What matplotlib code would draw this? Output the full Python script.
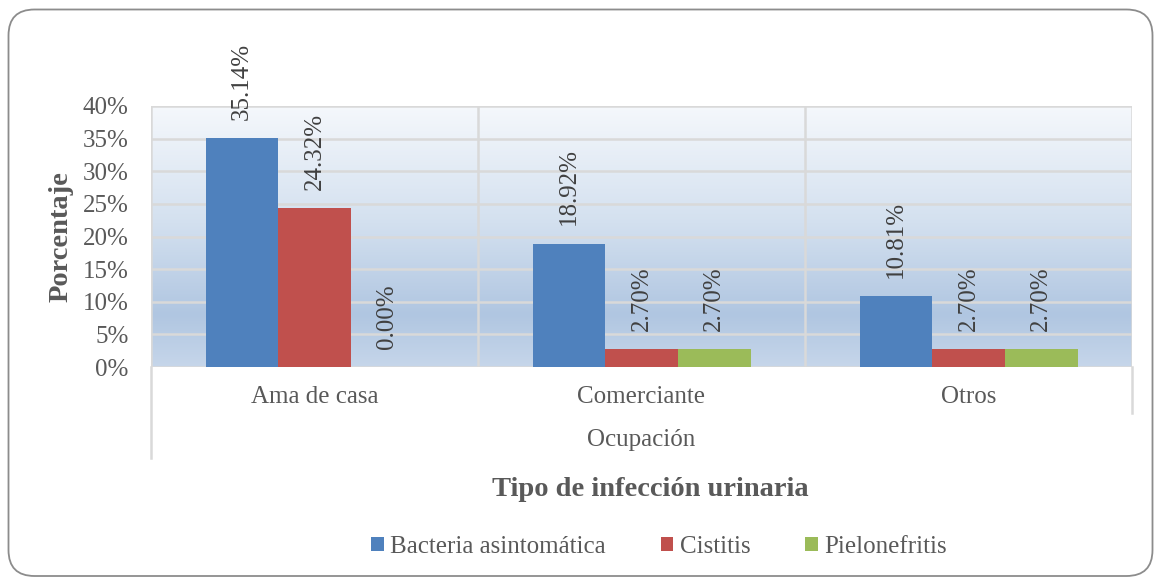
import matplotlib
matplotlib.use("Agg")
import matplotlib.pyplot as plt
import numpy as np
from matplotlib.patches import FancyBboxPatch, Patch
from matplotlib.colors import LinearSegmentedColormap
from matplotlib.lines import Line2D

categories = ["Ama de casa", "Comerciante", "Otros"]
series_names = ["Bacteria asintomática", "Cistitis", "Pielonefritis"]
bacteria = [35.14, 18.92, 10.81]
cistitis = [24.32, 2.70, 2.70]
pielonefritis = [0.00, 2.70, 2.70]
yticks = [0, 5, 10, 15, 20, 25, 30, 35, 40]

colors = ["#4f81bd", "#c0504d", "#9bbb59"]
TXT = "#595959"
FONT = "Liberation Serif"
plt.rcParams["font.family"] = FONT

W, H = 1155, 578
fig = plt.figure(figsize=(W / 100, H / 100), dpi=100)

# rounded border in pixel coordinates
bx0, by0, bx1, by1 = 8.5, 9.5, 1152.5, 576.0
border = FancyBboxPatch((bx0, H - by1), bx1 - bx0, by1 - by0,
                        boxstyle="round,pad=0,rounding_size=26",
                        transform=None, fill=False,
                        edgecolor="#8c8c8c", linewidth=1.3)
fig.patches.append(border)

L, R, T, B = 151, 1132, 106, 367
ax = fig.add_axes([L / W, 1 - B / H, (R - L) / W, (B - T) / H])
ax.set_xlim(0, 3)
ax.set_ylim(0, 40)

# gradient background
cmap = LinearSegmentedColormap.from_list(
    "bg", [(0.0, "#c6d6ea"), (0.2, "#b0c6e1"), (0.55, "#d3e0ef"), (1.0, "#f5f8fc")])
grad = np.linspace(0, 1, 256).reshape(-1, 1)
ax.imshow(grad, aspect="auto", cmap=cmap, extent=(0, 3, 0, 40), origin="lower", zorder=0)

# grid
for y in yticks:
    ax.axhline(y, color="#d9d9d9", lw=1.8, zorder=1)
for x in [1, 2]:
    ax.axvline(x, color="#d9d9d9", lw=1.8, zorder=1)

bw = 1 / 4.5
x = np.arange(3)
allvals = [bacteria, cistitis, pielonefritis]
for i, vals in enumerate(allvals):
    xs = x + 0.5 + (i - 1) * bw
    ax.bar(xs, vals, width=bw, color=colors[i], zorder=2, linewidth=0)
    for xx, v in zip(xs, vals):
        ax.annotate(f"{v:.2f}%", (xx, v), xytext=(0, 13), textcoords="offset points",
                    rotation=90, ha="center", va="bottom", fontsize=18, color="#404040",
                    annotation_clip=False, zorder=3)

for s in ["top", "right", "bottom", "left"]:
    ax.spines[s].set_visible(False)
ax.add_line(Line2D([0, 0], [0, 40], color="#d9d9d9", lw=1.8, zorder=1))
ax.add_line(Line2D([3, 3], [0, 40], color="#d9d9d9", lw=1.8, zorder=1))
fig.add_artist(Line2D([L / W, L / W], [1 - B / H, 1 - 458 / H], color="#d9d9d9", lw=1.8))
fig.add_artist(Line2D([R / W, R / W], [1 - B / H, 1 - 413 / H], color="#d9d9d9", lw=1.8))

ax.set_yticks(yticks)
ax.set_yticklabels([f"{v}%" for v in yticks], fontsize=18, color=TXT)
ax.tick_params(axis="y", length=0, pad=16)
ax.set_xticks([0.5, 1.5, 2.5])
ax.set_xticklabels(categories, fontsize=18, color=TXT)
ax.tick_params(axis="x", length=0, pad=14)

fig.text(61 / W, 1 - 237 / H, "Porcentaje", rotation=90, ha="center", va="center",
         fontsize=20.5, fontweight="bold", color=TXT)
fig.text(641 / W, 1 - 440 / H, "Ocupación", ha="center", va="center", fontsize=18, color=TXT)
fig.text(650 / W, 1 - 490 / H, "Tipo de infección urinaria", ha="center", va="center",
         fontsize=20.5, fontweight="bold", color=TXT)

handles = [Patch(facecolor=c, edgecolor="none") for c in colors]
leg = fig.legend(handles, series_names, loc="center", bbox_to_anchor=(659 / W, 1 - 547 / H),
                 ncol=3, frameon=False, fontsize=18, handlelength=0.5, handleheight=0.5,
                 handletextpad=0.25, columnspacing=2.2, labelcolor=TXT,
                 borderpad=0, borderaxespad=0)

fig.savefig("out.png", dpi=100)
